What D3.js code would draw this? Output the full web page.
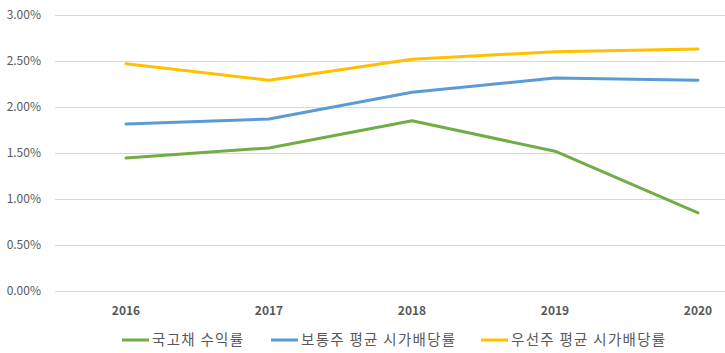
<!DOCTYPE html>
<html>
<head>
<meta charset="utf-8">
<script src="https://cdn.jsdelivr.net/npm/d3@7"></script>
<style>
  body { margin: 0; background: #fff; }
  text { font-family: "Noto Sans CJK KR", "Noto Sans", sans-serif; }
</style>
</head>
<body>
<div id="chart"></div>
<script>
// data
const years = ['2016', '2017', '2018', '2019', '2020'];
const bondYield = [1.445, 1.555, 1.85, 1.52, 0.85];
const commonDiv = [1.815, 1.87, 2.16, 2.315, 2.29];
const preferredDiv = [2.47, 2.29, 2.52, 2.60, 2.63];
const yTicks = [0, 0.5, 1, 1.5, 2, 2.5, 3];

const seriesNames = ['국고채 수익률', '보통주 평균 시가배당률', '우선주 평균 시가배당률'];
const seriesColors = ['#70AD47', '#5B9BD5', '#FFC000'];
const seriesValues = [bondYield, commonDiv, preferredDiv];

const width = 725;
const height = 353;

const svg = d3.select('#chart')
  .append('svg')
  .attr('width', width)
  .attr('height', height);

// scales
const xScale = d3.scalePoint()
  .domain(years)
  .range([126, 698]);

const yScale = d3.scaleLinear()
  .domain([0, 3])
  .range([291, 15]);

// gridlines
svg.append('g')
  .selectAll('line')
  .data(yTicks)
  .join('line')
  .attr('x1', 55)
  .attr('x2', width)
  .attr('y1', d => Math.round(yScale(d)) + 0.5)
  .attr('y2', d => Math.round(yScale(d)) + 0.5)
  .attr('stroke', '#D9D9D9')
  .attr('stroke-width', 1);

// y labels
svg.append('g')
  .selectAll('text')
  .data(yTicks)
  .join('text')
  .attr('x', 41)
  .attr('y', d => yScale(d))
  .attr('dy', '0.35em')
  .attr('text-anchor', 'end')
  .attr('font-size', 12)
  .attr('fill', '#595959')
  .text(d => d.toFixed(2) + '%');

// x labels
svg.append('g')
  .selectAll('text')
  .data(years)
  .join('text')
  .attr('x', d => xScale(d))
  .attr('y', 311)
  .attr('dy', '0.35em')
  .attr('text-anchor', 'middle')
  .attr('font-size', 12)
  .attr('font-weight', 'bold')
  .attr('fill', '#595959')
  .text(d => d);

// lines
const line = d3.line()
  .x((d, i) => xScale(years[i]))
  .y(d => yScale(d));

seriesValues.forEach((vals, i) => {
  svg.append('path')
    .datum(vals)
    .attr('d', line)
    .attr('fill', 'none')
    .attr('stroke', seriesColors[i])
    .attr('stroke-width', 3)
    .attr('stroke-linejoin', 'round')
    .attr('stroke-linecap', 'round');
});

// legend
const legendX = [122, 271, 481];
const legend = svg.append('g');
seriesNames.forEach((name, i) => {
  legend.append('line')
    .attr('x1', legendX[i])
    .attr('x2', legendX[i] + 27)
    .attr('y1', 340)
    .attr('y2', 340)
    .attr('stroke', seriesColors[i])
    .attr('stroke-width', 3);
  legend.append('text')
    .attr('x', legendX[i] + 30)
    .attr('y', 340)
    .attr('dy', '0.35em')
    .attr('font-size', 14.5)
    .attr('letter-spacing', 1.3)
    .attr('fill', '#595959')
    .text(name);
});
</script>
</body>
</html>
